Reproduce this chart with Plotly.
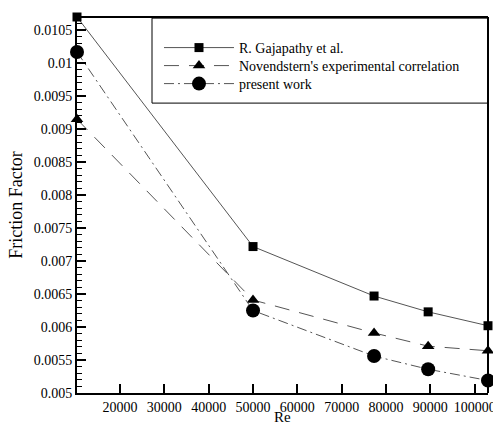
import plotly.graph_objects as go

re_vals = [10300, 50000, 77300, 89500, 103000]
gajapathy = [0.0107, 0.00722, 0.00647, 0.00623, 0.00602]
novendstern = [0.00915, 0.00641, 0.00591, 0.00571, 0.00564]
present = [0.01017, 0.00625, 0.00556, 0.00536, 0.00519]

series_names = ["R. Gajapathy et al.", "Novendstern's experimental correlation", "present work"]

y_ticks = [0.005, 0.0055, 0.006, 0.0065, 0.007, 0.0075, 0.008, 0.0085, 0.009, 0.0095, 0.01, 0.0105]
y_labels = ["0.005", "0.0055", "0.006", "0.0065", "0.007", "0.0075", "0.008", "0.0085", "0.009", "0.0095", "0.01", "0.0105"]
x_ticks = [20000, 30000, 40000, 50000, 60000, 70000, 80000, 90000, 100000]
x_labels = ["20000", "30000", "40000", "50000", "60000", "70000", "80000", "90000", "100000"]

FONT = "Liberation Serif"
LINE = "#555555"

fig = go.Figure()
fig.add_trace(go.Scatter(x=re_vals, y=gajapathy, name=series_names[0], mode="lines+markers",
                         line=dict(color=LINE, width=1, dash="solid"), legend="legend",
                         marker=dict(symbol="square", size=9, color="black"), cliponaxis=False))
fig.add_trace(go.Scatter(x=re_vals, y=novendstern, name=series_names[1], mode="lines+markers",
                         line=dict(color=LINE, width=1, dash="15px,10px"), legend="legend2",
                         marker=dict(symbol="triangle-up", size=11, color="black"), cliponaxis=False))
fig.add_trace(go.Scatter(x=re_vals, y=present, name=series_names[2], mode="lines+markers",
                         line=dict(color=LINE, width=1, dash="10px,4px,2px,4px"), legend="legend3",
                         marker=dict(symbol="circle", size=14, color="black"), cliponaxis=False))

# legend frame
fig.add_shape(type="rect", xref="paper", yref="paper", x0=0.1825, x1=1.0, y0=0.771, y1=0.997,
              line=dict(color="black", width=1), fillcolor="white", layer="below")
# top and right frame of the plot
fig.add_shape(type="line", xref="paper", yref="paper", x0=0, x1=1, y0=1, y1=1,
              line=dict(color="black", width=2), layer="above")
fig.add_shape(type="line", xref="paper", yref="paper", x0=1, x1=1, y0=0, y1=1,
              line=dict(color="black", width=2), layer="above")

fig.add_annotation(text="Re", xref="paper", yref="paper", x=0.5, y=0, yshift=-24,
                   xanchor="center", yanchor="middle", showarrow=False,
                   font=dict(family=FONT, size=15, color="black"))

leg_common = dict(x=0.1995, xanchor="left", yanchor="middle", bgcolor="rgba(0,0,0,0)",
                  borderwidth=0, itemwidth=70, font=dict(family=FONT, size=14, color="black"))

fig.update_layout(
    width=493, height=423,
    margin=dict(l=77, r=5, t=17, b=30, autoexpand=False),
    paper_bgcolor="white", plot_bgcolor="white",
    font=dict(family=FONT, size=14, color="black"),
    showlegend=True,
    legend=dict(y=0.9176, **leg_common),
    legend2=dict(y=0.8697, **leg_common),
    legend3=dict(y=0.8218, **leg_common),
    xaxis=dict(range=[10300, 103000], tickmode="array", tickvals=x_ticks, ticktext=x_labels,
               ticks="inside", ticklen=9, tickwidth=2, tickcolor="black",
               ticklabeloverflow="allow", automargin=False,
               showline=True, linewidth=2, linecolor="black",
               showgrid=False, zeroline=False,
               tickfont=dict(family=FONT, size=14)),
    yaxis=dict(range=[0.005, 0.0107], tickmode="array", tickvals=y_ticks, ticktext=y_labels,
               ticks="inside", ticklen=9, tickwidth=2, tickcolor="black",
               minor=dict(dtick=0.0001, ticks="inside", ticklen=5, tickwidth=1, tickcolor="black"),
               showline=True, linewidth=2, linecolor="black", automargin=False,
               showgrid=False, zeroline=False,
               title=dict(text="Friction Factor", font=dict(family=FONT, size=18), standoff=6),
               tickfont=dict(family=FONT, size=14)),
)

fig.write_html("out.html")
